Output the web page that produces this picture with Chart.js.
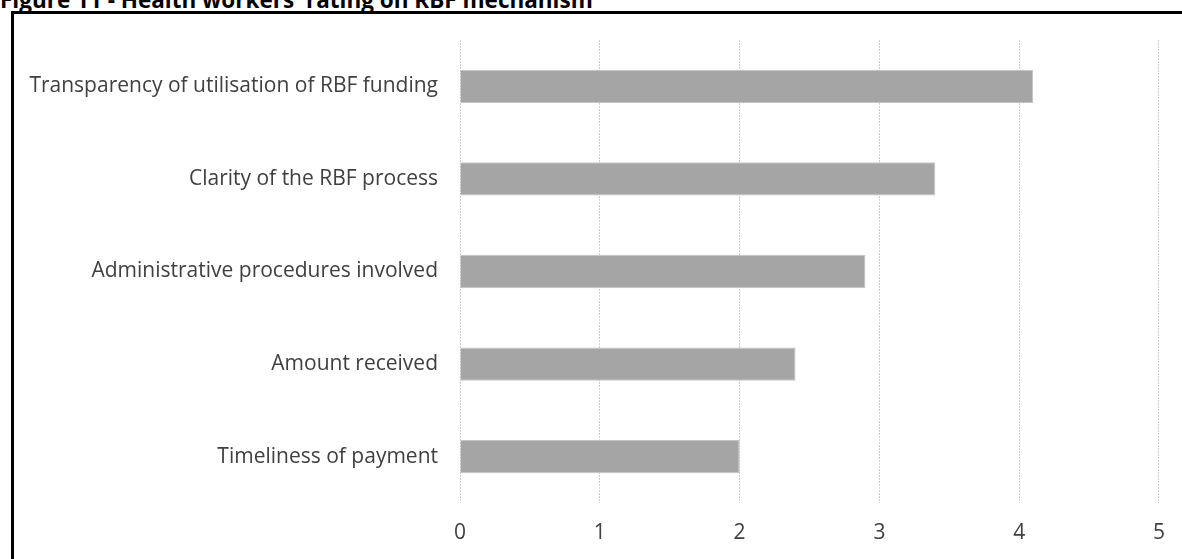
<!DOCTYPE html>
<html>
<head>
<meta charset="utf-8">
<script src="https://cdn.jsdelivr.net/npm/chart.js@4.4.1/dist/chart.umd.min.js"></script>
<style>
  html, body { margin: 0; padding: 0; background: #fff; overflow: hidden; }
  #title {
    position: absolute; left: 0; top: -16px; line-height: 22px;
    font: bold 22.5px "Open Sans", sans-serif; color: #000; white-space: nowrap;
  }
  #frame {
    position: absolute; left: 11px; top: 11px; width: 1200px; height: 600px;
    border: 3px solid #000; box-sizing: border-box;
  }
  #wrap { position: absolute; left: 0; top: 0; width: 1182px; height: 559px; }
</style>
</head>
<body>
<div id="title">Figure 11 - Health workers' rating on RBF mechanism</div>
<div id="frame"></div>
<div id="wrap"><canvas id="chart"></canvas></div>
<script>
// rating per aspect of the RBF mechanism (scale 0-5)
const categories = [
  'Transparency of utilisation of RBF funding',
  'Clarity of the RBF process',
  'Administrative procedures involved',
  'Amount received',
  'Timeliness of payment'
];
const ratings = [4.1, 3.4, 2.9, 2.4, 2.0];
const xMin = 0;
const xMax = 5;

const ctx = document.getElementById('chart').getContext('2d');
new Chart(ctx, {
  type: 'bar',
  data: {
    labels: categories,
    datasets: [{
      label: 'Rating',
      data: ratings,
      backgroundColor: '#a5a5a5',
      borderColor: '#c4c4c4',
      borderWidth: 1,
      categoryPercentage: 1,
      barPercentage: 0.36
    }]
  },
  options: {
    indexAxis: 'y',
    responsive: true,
    maintainAspectRatio: false,
    animation: false,
    layout: { padding: { top: 40, right: 23, left: 0, bottom: 0 } },
    plugins: { legend: { display: false }, tooltip: { enabled: false } },
    scales: {
      x: {
        min: xMin,
        max: xMax,
        ticks: { stepSize: 1, color: '#404040', padding: 17, font: { family: 'Open Sans', size: 21 } },
        grid: { color: '#cccccc', drawTicks: false },
        // in v4 the dash pattern of grid lines comes from border.dash
        border: { display: false, dash: [2, 1] },
        afterFit: s => { s.height = 56; }
      },
      y: {
        ticks: { color: '#404040', padding: 22, font: { family: 'Open Sans', size: 21 } },
        grid: { display: false, drawTicks: false },
        border: { display: false },
        afterFit: s => { s.width = 460; }
      }
    }
  }
});
</script>
</body>
</html>
